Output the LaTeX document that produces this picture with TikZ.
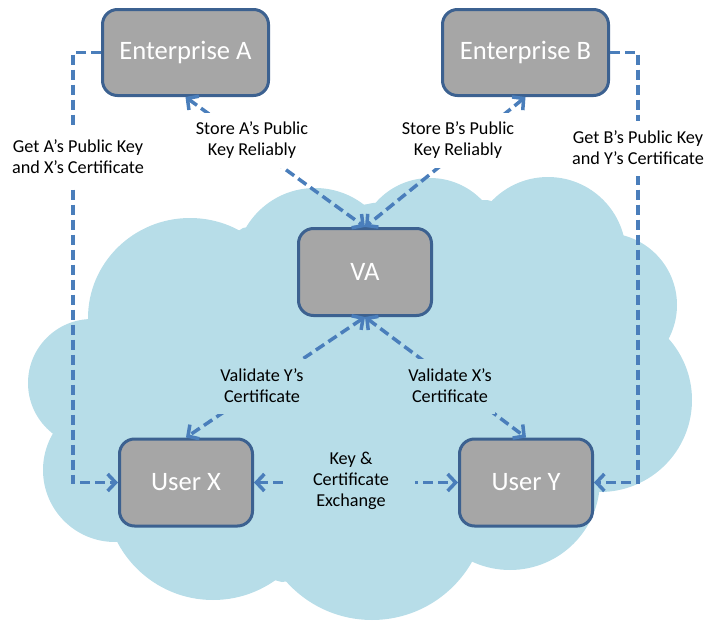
\documentclass[tikz,border=0pt]{standalone}
\usepackage{fontspec}
\setmainfont{Carlito}
\usetikzlibrary{arrows.meta}

\definecolor{cloudblue}{HTML}{B7DDE8}
\definecolor{boxgray}{HTML}{A6A6A6}
\definecolor{boxedge}{HTML}{3C6190}
\definecolor{linkblue}{HTML}{4A7EBB}

\tikzset{
  entity/.style={draw=boxedge, line width=3pt, fill=boxgray, rounded corners=15pt,
    text=white, font=\fontsize{26.6}{30}\selectfont,
    minimum width=133pt, minimum height=87pt, inner sep=0pt},
  link/.style={draw=linkblue, line width=3.5pt, dash pattern=on 10pt off 5pt},
  caption/.style={font=\fontsize{18.2}{21}\selectfont, align=center,
    inner xsep=3pt, inner ysep=0pt, minimum height=55pt, text=black},
  >={Straight Barb[length=8pt,width=17pt]}
}

\begin{document}
\begin{tikzpicture}[x=1pt,y=1pt]
\useasboundingbox (0,0) rectangle (705,-624);

% cloud: chord polygon plus one disc per bump
\fill[cloudblue] (88,-325) -- (243,-228) -- (373,-203) -- (487,-200) -- (617,-232)
  -- (670,-335) -- (602,-490) -- (467,-557) -- (282,-582) -- (115,-540) -- (61,-440) -- cycle;
\fill[cloudblue] (190,-318) ellipse[x radius=102pt, y radius=100pt];
\fill[cloudblue] (315,-268) circle[radius=80pt];
\fill[cloudblue] (430,-250) circle[radius=72pt];
\fill[cloudblue] (548,-255) circle[radius=78pt];
\fill[cloudblue] (605,-305) circle[radius=72pt];
\fill[cloudblue] (600,-400) circle[radius=92pt];
\fill[cloudblue] (510,-480) circle[radius=90pt];
\fill[cloudblue] (372,-505) circle[radius=115pt];
\fill[cloudblue] (213,-492) circle[radius=108pt];
\fill[cloudblue] (115,-470) circle[radius=72pt];
\fill[cloudblue] (92,-383) circle[radius=64pt];

% parties
\node[entity, minimum width=166pt, minimum height=86pt] (EA) at (185.5,-52.5) {Enterprise A};
\node[entity, minimum width=166pt, minimum height=86pt] (EB) at (525.5,-52.5) {Enterprise B};
\node[entity] (VA) at (365,-272) {VA};
\node[entity] (UX) at (186,-482.5) {User X};
\node[entity] (UY) at (526,-482.5) {User Y};

% vertical rails of the outer connectors
\coordinate (leftrail) at (73,0);
\coordinate (rightrail) at (638,0);

% connectors
\draw[link,->] (EA.west) -- (EA.west -| leftrail) -- (UX.west -| leftrail) -- (UX.west);
\draw[link,->] (EB.east) -- (EB.east -| rightrail) -- (UY.east -| rightrail) -- (UY.east);
\draw[link,<->] (EA.south) -- (VA.north);
\draw[link,<->] (EB.south) -- (VA.north);
\draw[link,<->] (VA.south) -- (UX.north);
\draw[link,<->] (VA.south) -- (UY.north);
\draw[link,<->] (UX.east) -- (UY.west);

% connector captions
\node[caption, fill=white, minimum height=57pt] (capGA) at (78,-157) {Get A’s Public Key\\and X’s Certificate};
\node[caption, fill=white] (capGB) at (638,-148) {Get B’s Public Key\\and Y’s Certificate};
\node[caption, fill=white] (capSA) at (252,-140) {Store A’s Public\\Key Reliably};
\node[caption, fill=white] (capSB) at (458,-140) {Store B’s Public\\Key Reliably};
\node[caption, fill=cloudblue] (capVY) at (262,-386) {Validate Y’s\\Certificate};
\node[caption, fill=cloudblue] (capVX) at (450,-386) {Validate X’s\\Certificate};
\node[caption, fill=cloudblue, minimum width=128pt, minimum height=62pt] (capKC) at (351,-481) {Key \&\\Certificate\\Exchange};
\end{tikzpicture}
\end{document}
